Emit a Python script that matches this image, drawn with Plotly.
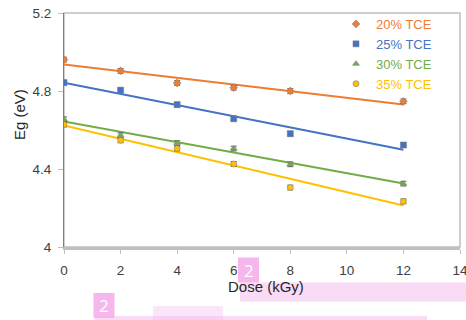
import numpy as np
import plotly.graph_objects as go

dose = [0, 2, 4, 6, 8, 12]
series_names = ["20% TCE", "25% TCE", "30% TCE", "35% TCE"]
eg_20 = [4.961, 4.903, 4.841, 4.817, 4.800, 4.747]
eg_25 = [4.843, 4.804, 4.730, 4.658, 4.581, 4.523]
eg_30 = [4.655, 4.573, 4.533, 4.505, 4.424, 4.325]
eg_35 = [4.628, 4.547, 4.505, 4.426, 4.305, 4.234]
err = [0.012, 0.012, 0.012, 0.012, 0.012, 0.012]
x_ticks = [0, 2, 4, 6, 8, 10, 12, 14]
y_ticks = [4, 4.4, 4.8, 5.2]

colors = ["#ED7D31", "#4472C4", "#70AD47", "#FFC000"]
symbols = ["diamond", "square", "triangle-up", "circle"]
all_eg = [eg_20, eg_25, eg_30, eg_35]

W, H = 466, 320
L, R, T, B = 64, 6, 13, 73
pw, ph = W - L - R, H - T - B


def px(x):
    return (x - L) / pw


def py(y):
    return (H - B - y) / ph


fig = go.Figure()
for name, ys, c, s in zip(series_names, all_eg, colors, symbols):
    slope, inter = np.polyfit(dose, ys, 1)
    xs = [dose[0], dose[-1]]
    fig.add_trace(go.Scatter(x=xs, y=[inter + slope * v for v in xs], mode="lines",
                             line=dict(color=c, width=2), showlegend=False, hoverinfo="skip"))
for name, ys, c, s in zip(series_names, all_eg, colors, symbols):
    fig.add_trace(go.Scatter(
        x=dose, y=ys, mode="markers",
        name=f'<span style="color:{c}">{name}</span>',
        marker=dict(symbol=s, color=c, size=6, line=dict(color="#7f7f7f", width=0.6)),
        error_y=dict(type="data", array=err, color="#595959", thickness=1, width=3),
    ))

# frame
fig.add_shape(type="rect", xref="paper", yref="paper", x0=0, x1=1, y0=0, y1=1,
              line=dict(color="#bfbfbf", width=1.5), layer="below")

# overlay highlight artifacts
pink = "rgba(246,190,238,0.55)"
fig.add_shape(type="rect", xref="paper", yref="paper", x0=px(240), x1=px(466), y0=py(301.5), y1=py(282.5),
              line=dict(width=0), fillcolor=pink, layer="below")
fig.add_shape(type="rect", xref="paper", yref="paper", x0=px(95), x1=px(427), y0=py(320), y1=py(316),
              line=dict(width=0), fillcolor=pink)
fig.add_shape(type="rect", xref="paper", yref="paper", x0=px(153), x1=px(223), y0=py(320), y1=py(306),
              line=dict(width=0), fillcolor="rgba(246,190,238,0.4)")
for bx0, by0 in [(238, 257.5), (93.5, 293)]:
    fig.add_shape(type="rect", xref="paper", yref="paper", x0=px(bx0), x1=px(bx0 + 21),
                  y0=py(by0 + 25), y1=py(by0), line=dict(width=0),
                  fillcolor="rgba(243,170,233,0.85)")
    fig.add_annotation(text="2", xref="paper", yref="paper", x=px(bx0 + 10.5), y=py(by0 + 12.5),
                       xanchor="center", yanchor="middle",
                       showarrow=False, font=dict(family="Open Sans", size=17, color="white"))

fig.add_annotation(text="Dose (kGy)", xref="paper", yref="paper", x=px(266), y=py(286),
                   xanchor="center", yanchor="middle",
                   showarrow=False, font=dict(family="Liberation Sans", size=15, color="#262626"))
fig.add_annotation(text="Eg (eV)", xref="paper", yref="paper", x=px(19), y=py(115), textangle=-90,
                   xanchor="center", yanchor="middle",
                   showarrow=False, font=dict(family="Liberation Sans", size=15, color="#262626"))

fig.update_layout(
    width=W, height=H, margin=dict(l=L, r=R, t=T, b=B, autoexpand=False),
    paper_bgcolor="white", plot_bgcolor="white",
    font=dict(family="Liberation Sans", size=13, color="#404040"),
    legend=dict(x=px(336), y=py(9), xanchor="left", yanchor="top", bgcolor="rgba(0,0,0,0)",
                font=dict(size=13), itemwidth=30, tracegroupgap=0),
    xaxis=dict(range=[0, 14], tickvals=x_ticks, showgrid=False, zeroline=False, automargin=False,
               showline=True, linecolor="#bfbfbf", linewidth=2.5, ticks="outside", ticklen=4,
               tickcolor="#bfbfbf", ticklabelstandoff=5, ticklabeloverflow="allow",
               tickfont=dict(size=13.5, color="#404040")),
    yaxis=dict(range=[4, 5.2], tickvals=y_ticks, ticktext=["4", "4.4", "4.8", "5.2"], showgrid=False,
               zeroline=False, showline=True, linecolor="#808080", linewidth=1.2, ticks="outside",
               automargin=False, ticklen=5, tickcolor="#bfbfbf", ticklabelstandoff=4,
               ticklabeloverflow="allow", tickfont=dict(size=13.5, color="#404040")),
)

fig.write_html("out.html", config={"displayModeBar": False},
               post_script="document.body.style.margin='0';document.body.style.overflow='hidden';")
